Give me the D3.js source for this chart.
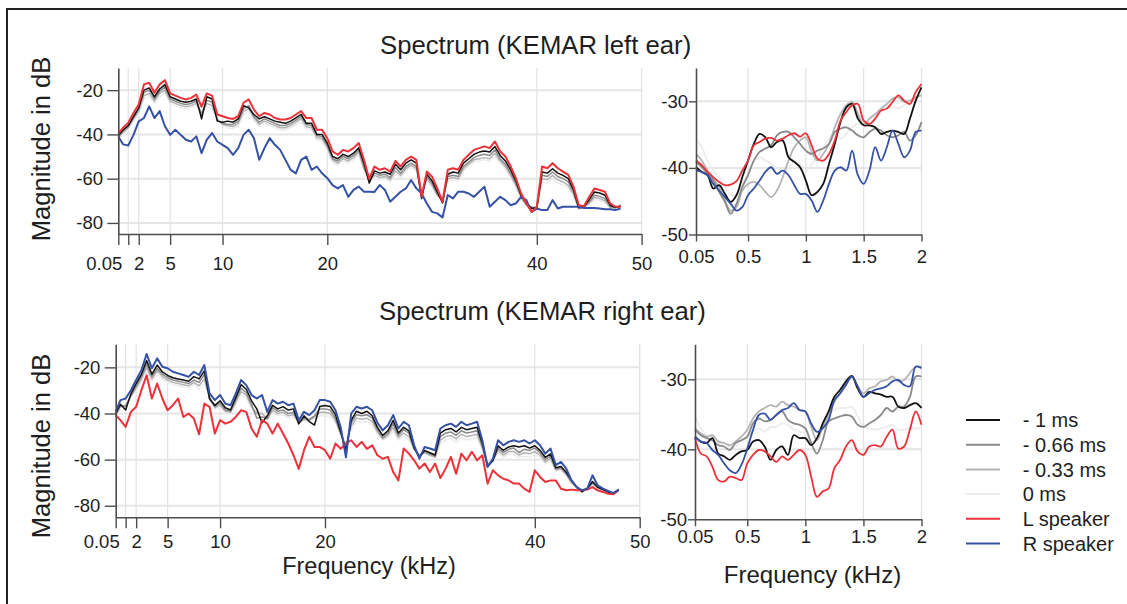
<!DOCTYPE html>
<html><head><meta charset="utf-8">
<script src="https://cdn.jsdelivr.net/npm/d3@7"></script>
<style>
html,body{margin:0;padding:0;background:#fff;}
svg{display:block;font-family:"Liberation Sans",Arial,Helvetica,sans-serif;}
</style></head><body>
<svg id="c" width="1127" height="604"></svg>
<script>
// ---------------- DATA ----------------
const freqL = [0.05,0.5,1,1.5,2,2.5,3,3.5,4,4.5,5,5.5,6,6.5,7,7.5,8,8.5,9,9.5,10,10.5,11,11.5,12,12.5,13,13.5,14,14.5,15,15.5,16,16.5,17,17.5,18,18.5,19,19.5,20,20.5,21,21.5,22,22.5,23,23.5,24,24.5,25,25.5,26,26.5,27,27.5,28,28.5,29,29.5,30,30.5,31,31.5,32,32.5,33,33.5,34,34.5,35,35.5,36,36.5,37,37.5,38,38.5,39,39.5,40,40.5,41,41.5,42,42.5,43,43.5,44,44.5,45,45.5,46,46.5,47,47.5,48];
const freqR = [0.05,0.1,0.15,0.2,0.25,0.3,0.35,0.4,0.45,0.5,0.55,0.6,0.65,0.7,0.75,0.8,0.85,0.9,0.95,1,1.05,1.1,1.15,1.2,1.25,1.3,1.35,1.4,1.45,1.5,1.55,1.6,1.65,1.7,1.75,1.8,1.85,1.9,1.95,2];
const seriesLabels = ["- 1 ms","- 0.66 ms","- 0.33 ms","0 ms","L speaker","R speaker"];
const xTicksWide = [0.05,1,2,5,10,20,40,50];
const xTicksNarrow = [0.05,0.5,1,1.5,2];
const yTicksWide = [-80,-60,-40,-20];
const yTicksNarrow = [-50,-40,-30];
const titles = ["Spectrum (KEMAR left ear)","Spectrum (KEMAR right ear)"];

// Left ear, wide range (kHz 0.05-48)
const leftWideL = [-39.7,-37,-34.8,-30.3,-26.5,-17.4,-16.7,-21.2,-17.4,-15.5,
 -21.5,-22.5,-23.5,-24.2,-23.5,-22,-27.5,-21.5,-22.5,-31,
 -31.8,-32.6,-33,-31.8,-25.7,-24.2,-28.8,-31.8,-30.3,-31,
 -32.6,-33.3,-33.3,-32.6,-31,-29.5,-32.6,-32.6,-37.9,-37.9,
 -41.7,-47.7,-49.2,-47,-47.7,-46.2,-43.9,-51.5,-60,-54.5,
 -56,-55.3,-56.8,-52,-54.5,-51.5,-50,-51.5,-68,-56.8,
 -59.1,-64.4,-70.5,-56,-55.3,-56,-51.5,-49.2,-47,-46.2,
 -45.4,-46.2,-43.2,-47.7,-50,-54.5,-59.8,-66.7,-71.2,-75,
 -72.7,-54.5,-55.3,-53,-55.3,-56.8,-58.3,-63.6,-72,-72.4,
 -68.2,-64.4,-65.1,-65.9,-71.2,-72.7,-72.7];
const leftWideR = [-40.9,-44.5,-45,-40.2,-34.1,-32.6,-27.3,-32.6,-29.5,-36.3,
 -40.2,-37.9,-40.2,-42.4,-43.2,-40.9,-48.5,-42.4,-39.4,-43.2,
 -44.7,-46.2,-49.2,-46.2,-40.2,-37.9,-41.7,-51.5,-46.2,-41.7,
 -44.7,-47,-51.5,-56,-57.6,-51.5,-50,-56,-54.5,-57.6,
 -59.8,-62.9,-64.4,-62.9,-68.2,-65.1,-63.6,-65.9,-65.9,-66,
 -62.9,-65.1,-70.4,-68.2,-65.9,-64.4,-60.6,-64.4,-66.7,-71.2,
 -75,-75.7,-77.5,-67.4,-68.9,-65.9,-65.9,-66.7,-68.2,-65.9,
 -63.6,-72.7,-70.4,-68.2,-69.7,-72,-71.2,-68.2,-69.7,-75,
 -73.5,-74.2,-74.2,-69.7,-73.5,-72.7,-72.7,-72.7,-72.7,-73.2,
 -73.2,-73.2,-73.5,-73.8,-73.8,-74.2,-73.5];
const leftWideM100 = [-40.5,-38,-36,-32,-28,-20,-19,-23,-19.5,-17.5,
 -23,-24,-25,-25.5,-25,-24,-33,-23,-24,-34,
 -34.5,-34,-34.5,-33,-27,-28,-31,-33,-32,-33,
 -34,-34.5,-35,-34,-32.5,-31,-35,-35,-40,-40,
 -44,-50,-51,-49,-50,-48.5,-46,-53,-62,-56.5,
 -57.5,-57,-58,-53.5,-56,-53,-51.5,-53,-69,-58,
 -61,-66,-71,-58,-57,-57.5,-53,-51,-49,-48,
 -47.5,-48,-45.5,-49.5,-52,-56,-61,-67.5,-71,-73.5,
 -73,-57,-57.5,-55.5,-57.5,-58.5,-60,-65,-73,-72.5,
 -69.5,-66,-66.5,-67.5,-72,-73,-72.5];
const leftWideM066 = [-41,-38.5,-36.5,-32.5,-28.5,-21,-20,-24,-20.5,-18.5,
 -24,-25,-26,-26.5,-26,-25,-31,-24.5,-25.5,-33.5,
 -35,-35.5,-35.5,-34,-28.5,-27,-32,-34.5,-33,-34,
 -35,-36,-36,-35,-33.5,-32,-35.5,-36,-40.5,-41,
 -45,-51,-52,-50,-51,-49.5,-47,-54.5,-61,-57.5,
 -58.5,-58,-59.5,-55,-57.5,-54.5,-53,-54.5,-68,-59,
 -62,-67,-70,-59,-58.5,-59,-54.5,-52.5,-50.5,-49.5,
 -49,-49.5,-47,-51,-53.5,-57.5,-62,-68,-71.5,-73,
 -73,-58.5,-59,-57,-59,-60,-61.5,-66,-73.5,-73,
 -70.5,-67.5,-68,-69,-72.5,-73,-72];
const leftWideM033 = [-41.5,-39,-37,-33,-29.5,-22.5,-21.5,-25,-21.5,-20,
 -25,-26,-27,-27.5,-27,-26,-30.5,-26,-27,-33,
 -35.5,-36,-36.5,-35,-29.5,-28.5,-32.5,-35.5,-34,-35,
 -36,-37,-37,-36,-34.5,-33,-36.5,-37,-41.5,-42,
 -46,-51.5,-53,-51,-52,-50.5,-48,-55.5,-60.5,-58.5,
 -59.5,-59,-60.5,-56.5,-58.5,-55.5,-54,-55.5,-67,-60,
 -63,-67.5,-69.5,-60,-59.5,-60,-55.5,-53.5,-51.5,-51,
 -50.5,-51,-48.5,-52,-54.5,-58.5,-63,-68.5,-72,-73,
 -73,-60,-60.5,-58.5,-60.5,-61.5,-63,-67,-73.5,-73,
 -71,-68.5,-69,-70,-73,-73,-72.5];
const leftWideM000 = [-42,-39.5,-37.5,-34,-30.5,-24,-23,-26,-23,-21.5,
 -26,-27,-28,-28.5,-28,-27,-30,-27.5,-28.5,-32.5,
 -36,-37,-37.5,-36,-31,-30,-33.5,-36.5,-35,-36,
 -37,-38,-38,-37,-35.5,-34.5,-37.5,-38,-42.5,-43,
 -47,-52.5,-54,-52,-53,-51.5,-49,-56.5,-60,-59.5,
 -60.5,-60,-61.5,-58,-59.5,-56.5,-55,-56.5,-66,-61,
 -64,-68,-69,-61,-60.5,-61,-56.5,-54.5,-52.5,-52,
 -51.5,-52,-50,-53,-55.5,-59.5,-64,-69,-72,-73,
 -73,-61.5,-62,-60,-62,-63,-64,-68,-73.5,-73,
 -71.5,-69.5,-70,-71,-73,-73,-72.5];

// Right ear, wide range
const rightWideR = [-39.3,-34.2,-33.5,-29.9,-25.5,-21.2,-14.2,-20.4,-16.1,-19.7,
 -20.4,-21.9,-22.6,-23.3,-24.1,-21.9,-23.3,-19,-31.3,-34.2,
 -32,-35.7,-36.4,-31.3,-25.5,-27.7,-32,-33.5,-32,-39.3,
 -34.2,-35.7,-34.9,-36.4,-35.7,-42.9,-39.3,-40.7,-38.6,-34.2,
 -34.2,-34.9,-38.6,-46,-59,-40,-37.1,-37.8,-37.1,-38.6,
 -44,-47.3,-45.1,-40.7,-46.5,-43.6,-45.1,-53.8,-59.6,-54.5,
 -55.2,-55.9,-46.5,-45.1,-44.4,-45.8,-43.6,-45.1,-44.4,-43.6,
 -51.6,-63.2,-59.6,-51.6,-53.8,-52.3,-51.6,-52.3,-51.6,-53,
 -51.6,-53.8,-57.4,-55.2,-62.4,-61,-63.9,-69,-71.9,-73.3,
 -72.6,-66.8,-71.2,-72.6,-73.6,-74.5,-73];
const rightWideL = [-40.7,-42.9,-45.8,-39.3,-37.1,-29.9,-23.4,-33.5,-27,-33.5,
 -38.6,-36.4,-33.5,-41.5,-40,-42.2,-49,-35.7,-37.1,-48.7,
 -42.9,-44.4,-43.6,-41.5,-38.6,-39.3,-46.5,-50.1,-42.9,-44.4,
 -48.7,-44.4,-48.7,-53,-58.1,-64,-55.9,-50.1,-54.5,-54.5,
 -55.9,-59.6,-53,-55.3,-53,-51.6,-54.5,-52.3,-55.3,-53.8,
 -58.1,-59.6,-58.8,-65.4,-69,-55.2,-57.4,-60.3,-63.9,-61.7,
 -65.4,-61.7,-68,-63.9,-58.8,-66.1,-57.4,-60.3,-56.6,-60.3,
 -58.1,-70.4,-64.6,-66.8,-68.3,-69,-70.4,-70.4,-72.6,-74,
 -64.6,-67.5,-69.7,-69,-69,-72.6,-73.3,-73,-73.3,-73.3,
 -73,-71.9,-73.3,-74,-74.8,-75,-73.3];
const rightWideM100 = [-40,-36,-38.5,-31.5,-27,-23,-17,-23,-19,-22,
 -23.5,-24.5,-25,-25.5,-26,-24,-25,-21.5,-33.5,-36.5,
 -34.5,-37.5,-38.5,-33,-27.5,-29.5,-34.5,-38,-44,-41,
 -36.5,-38,-37,-38.5,-38,-44.5,-41,-43.5,-45,-37,
 -36.5,-37,-40.5,-48,-56,-43,-39,-40,-39,-41,
 -46,-49.5,-47.5,-43,-48.5,-46,-47.5,-55,-59,-56,
 -57,-58,-48.5,-47,-46.5,-48,-46,-47,-46.5,-46,
 -53,-63,-60.5,-54,-56,-54.5,-54,-54.5,-54,-55,
 -54,-56,-59,-57.5,-63.5,-63,-65.5,-69,-72,-74,
 -72.5,-69.5,-72,-73,-74,-74.5,-73];
const rightWideM066 = [-40.5,-36.5,-37,-32,-28,-24,-18.5,-24,-20.5,-23,
 -24.5,-25.5,-26,-26.5,-27,-25.5,-26.5,-23,-34,-37,
 -35.5,-38.5,-39,-34,-29,-31,-36,-42,-41.5,-42,
 -37.5,-39,-38.5,-40,-39.5,-44,-42,-42.5,-41,-38,
 -38,-38.5,-42,-48.5,-55,-44,-40.5,-41,-40.5,-42,
 -47,-50.5,-48.5,-44.5,-49.5,-47,-48.5,-55,-58.5,-56.5,
 -57.5,-58.5,-50,-48.5,-48,-49.5,-47.5,-48.5,-48,-47.5,
 -54,-62.5,-60.5,-55,-57,-55.5,-55,-57,-55.5,-56,
 -55,-57,-60,-58.5,-64,-63.5,-66,-69.5,-72,-73.5,
 -72.5,-70,-72,-73,-74,-74.5,-73];
const rightWideM033 = [-41,-37,-36.5,-32.5,-29,-25,-20,-25,-21.5,-24,
 -25.5,-26.5,-27,-27.5,-28,-26.5,-28,-25,-33,-37.5,
 -36.5,-39,-39.5,-35,-30.5,-32,-37,-40,-40,-42.5,
 -38.5,-40,-39.5,-41,-40.5,-44,-42.5,-43,-41.5,-39.5,
 -39.5,-40,-43,-49,-54,-45.5,-42,-42.5,-42,-43.5,
 -48,-51,-49.5,-46,-50.5,-48.5,-50,-55.5,-58,-57,
 -58,-59,-51.5,-50,-49.5,-51,-49,-50,-49.5,-49,
 -55,-62,-60.5,-56,-58,-56.5,-56.5,-58,-57,-57.5,
 -56.5,-58,-61,-59.5,-64.5,-64,-66.5,-70,-72,-73.5,
 -72.5,-70.5,-72,-73,-74,-74.5,-73];
const rightWideM000 = [-41.5,-37.5,-36,-33,-30,-26,-21.5,-26,-23,-25,
 -26.5,-27.5,-28,-28.5,-29,-27.5,-29.5,-26.5,-32.5,-38,
 -37.5,-39.5,-40,-36,-32,-33,-38,-39.5,-39,-43,
 -39.5,-41,-40.5,-42,-41.5,-44,-43,-43.5,-42,-41,
 -41,-41.5,-44,-49.5,-53,-47,-43.5,-44,-43.5,-45,
 -49,-51.5,-50.5,-47.5,-51.5,-50,-51.5,-56,-57.5,-57.5,
 -58.5,-59.5,-53,-51.5,-51,-52.5,-50.5,-51.5,-51,-50.5,
 -56,-61.5,-60.5,-57,-59,-57.5,-58,-59,-58.5,-59,
 -58,-59,-62,-60.5,-65,-64.5,-67,-70.5,-72,-73.5,
 -72.5,-71,-72,-73,-74,-74.5,-73];

// Left ear, low range (kHz 0.05-2)
const leftLowL = [-38.9,-39.6,-40.6,-41.4,-42.1,-42.6,-42.5,-42,-40.4,-38.9,-36.6,-36.1,-35.6,-35.5,-35.9,-35.6,-35.1,-34.8,-35.3,-34.8,-36.6,-38.6,-38.9,-37.9,-35.9,-32.9,-31.6,-30.6,-30.4,-32.9,-33.4,-32.6,-31.4,-31.1,-30.1,-29.1,-29.9,-30.4,-28.6,-27.4];
const leftLowR = [-40.4,-40.6,-41.1,-42.4,-43.4,-44.4,-45.4,-46.4,-45.9,-44.1,-43.1,-41.9,-40.6,-39.9,-40.9,-40.4,-41.1,-42.6,-43.9,-43.9,-44.9,-46.6,-44.9,-42.4,-40.4,-39.9,-40.4,-37.4,-41.1,-42.4,-40.4,-36.9,-38.9,-36.9,-34.4,-36.4,-38.4,-37.4,-34.6,-34.4];
const leftLowM100 = [-39.9,-40.6,-41.1,-43.1,-42.6,-43.9,-45.1,-44.1,-41.4,-38.9,-36.4,-34.9,-35.4,-36.9,-36.1,-35.9,-38.4,-39.1,-39.9,-41.9,-44.1,-43.6,-42.4,-39.4,-36.4,-33.1,-30.9,-30.4,-32.6,-33.6,-33.6,-33.9,-34.9,-34.6,-34.4,-34.6,-34.9,-32.6,-29.9,-27.9];
const leftLowM066 = [-39.1,-39.9,-40.9,-41.9,-43.6,-45.1,-46.9,-45.4,-42.9,-41.1,-38.9,-37.6,-37.1,-36.6,-35.1,-34.6,-34.6,-35.4,-36.4,-37.4,-37.9,-37.4,-37.1,-36.4,-34.6,-34.1,-33.9,-34.4,-35.1,-35.4,-34.6,-34.1,-34.4,-35.1,-35.4,-35.1,-34.6,-35.9,-35.1,-33.1];
const leftLowM033 = [-37.9,-38.9,-40.4,-41.6,-42.9,-44.9,-46.4,-45.9,-43.4,-42.4,-42.1,-42.6,-43.6,-44.4,-43.4,-41.4,-38.9,-36.9,-35.9,-35.4,-37.6,-38.9,-37.9,-36.4,-33.9,-31.9,-30.6,-30.1,-31.9,-33.4,-32.6,-31.9,-31.1,-30.4,-29.6,-29.4,-30.1,-29.9,-29.4,-29.1];
const leftLowM000 = [-35.6,-36.9,-38.9,-40.4,-41.4,-42.9,-44.1,-43.9,-42.4,-40.9,-38.9,-38.4,-38.9,-39.4,-40.1,-40.4,-39.9,-39.1,-39.4,-40.4,-39.4,-38.4,-36.9,-35.6,-35.1,-35.6,-34.9,-33.9,-33.4,-33.6,-32.9,-32.1,-31.4,-30.9,-30.9,-31.1,-30.6,-30.1,-29.6,-28.9];

// Right ear, low range
const rightLowL = [-38.4,-40.6,-41,-42.5,-44.4,-44.6,-43.9,-44.1,-44.4,-42,-40.8,-40.1,-40.3,-41,-41.8,-41,-41.5,-40.8,-40.1,-40.8,-43.9,-46.8,-46,-45.6,-42.7,-41.5,-39.6,-38.7,-40.3,-40.8,-39.6,-39.4,-39.6,-38.2,-37.2,-39.9,-39.6,-37.2,-34.6,-36.5];
const rightLowR = [-38.2,-38.9,-39.1,-40.1,-40.8,-42,-43,-43.4,-42.2,-39.9,-37.2,-35.1,-34.9,-35.8,-35.1,-34.4,-34.1,-33.4,-34.4,-34.6,-36.3,-37.5,-37,-35.8,-33,-32,-30.8,-29.6,-31,-32.5,-32,-31.5,-31.3,-31,-30.3,-30.1,-30.8,-31,-28.2,-28.4];
const rightLowM100 = [-38.2,-38.9,-39.1,-38.4,-40.6,-41,-41.5,-40.8,-40.3,-40.1,-38.9,-38.7,-39.6,-41.5,-40.1,-39.6,-40.8,-38,-38.4,-38.4,-39.4,-38.4,-36.3,-34.6,-32.5,-31.5,-30.3,-29.5,-31.3,-32.5,-31.8,-32,-32.2,-32.5,-32.5,-33.9,-34.1,-33.7,-33.4,-34.1];
const rightLowM066 = [-37.2,-38,-38.4,-38.7,-39.4,-39.6,-40.1,-39.1,-38.7,-38.2,-36.3,-35.6,-36,-35.8,-35.1,-34.6,-35.8,-36.3,-36.5,-37,-39.1,-40.6,-38.7,-36,-35.6,-35.3,-35.1,-35.3,-36.5,-36.8,-36.3,-35.8,-35.1,-34.1,-34.6,-33.9,-33.9,-32.5,-29.6,-29.6];
const rightLowM033 = [-37,-37.7,-38.2,-38,-38.9,-39.1,-39.4,-38.9,-38.2,-37.2,-35.6,-34.6,-34.1,-33.7,-33.9,-33.2,-33.7,-33.9,-34.4,-34.6,-36.8,-38.7,-36.8,-35.1,-33.2,-32,-30.6,-29.6,-31,-32,-31.3,-31,-30.3,-30.1,-29.6,-30.3,-30.1,-29.1,-28.2,-28.2];
const rightLowM000 = [-35.3,-37,-38,-38.2,-38.7,-39.1,-39.6,-39.6,-38.7,-38.2,-37.5,-37,-37.5,-36.8,-36.8,-36.3,-36.5,-37.2,-37.5,-37.7,-38.9,-38.7,-36.8,-34.9,-34.4,-34.1,-34.1,-33.9,-35.3,-36.8,-37,-37.2,-37,-36.8,-36.5,-37.2,-37.2,-37,-37,-37];

// ---------------- STYLE ----------------
const colorOf = {"- 1 ms":"#111111","- 0.66 ms":"#8a8a8a","- 0.33 ms":"#b4b4b4","0 ms":"#ececec","L speaker":"#ec3139","R speaker":"#3451a5"};
const FONT = '"Liberation Sans",Arial,Helvetica,sans-serif';
const TXT = "#1e1e1e";
const AX = "#4d4d4d";

const svg = d3.select("#c");

// frame
svg.append("line").attr("x1",7).attr("x2",7).attr("y1",8).attr("y2",604).attr("stroke","#222").attr("stroke-width",2);
svg.append("line").attr("x1",6).attr("x2",1127).attr("y1",9).attr("y2",9).attr("stroke","#222").attr("stroke-width",2);

function drawPanel(cfg){
  const x = d3.scaleLinear().domain(cfg.xd).range(cfg.xr);
  const y = d3.scaleLinear().domain(cfg.yd).range(cfg.yr);
  const g = svg.append("g");
  // grid
  g.selectAll("line.hg").data(cfg.yGrid).join("line")
    .attr("x1",cfg.xr[0]).attr("x2",cfg.xr[1]).attr("y1",d=>y(d)).attr("y2",d=>y(d))
    .attr("stroke","#e6e6e6").attr("stroke-width",2);
  g.selectAll("line.vg").data(cfg.xGrid).join("line")
    .attr("x1",d=>x(d)).attr("x2",d=>x(d)).attr("y1",cfg.yr[1]).attr("y2",cfg.yr[0])
    .attr("stroke","#e2e2e2").attr("stroke-width",1.2);
  // curves
  const line = d3.line().x((d,i)=>x(cfg.freq[i])).y(d=>y(d)).curve(cfg.curve);
  cfg.order.forEach(name=>{
    g.append("path").datum(cfg.series[name]).attr("d",line)
      .attr("fill","none").attr("stroke",colorOf[name])
      .attr("stroke-width",(name==="L speaker"||name==="R speaker")?cfg.lwMain:cfg.lwGray)
      .attr("stroke-linejoin","round");
  });
  // axes
  const xa = g.append("g").attr("transform",`translate(0,${cfg.yr[0]})`)
    .call(d3.axisBottom(x).tickValues(cfg.xTicks).tickSize(cfg.tick).tickSizeOuter(0)
      .tickPadding(cfg.xPad).tickFormat(d=> d===1 && cfg.hideOne ? "" : String(d)));
  const ya = g.append("g").attr("transform",`translate(${cfg.xr[0]},0)`)
    .call(d3.axisLeft(y).tickValues(cfg.yTicks).tickSize(cfg.tick).tickSizeOuter(0)
      .tickPadding(cfg.yPad).tickFormat(d=>String(d)));
  [xa,ya].forEach(a=>{
    a.attr("font-family",FONT).attr("font-size",18.5);
    a.select(".domain").attr("stroke",AX).attr("stroke-width",1.6);
    a.selectAll(".tick line").attr("stroke",AX).attr("stroke-width",1.4);
    a.selectAll(".tick text").attr("fill",TXT);
  });
  if(cfg.hideOne){
    xa.selectAll(".tick text").filter(d=>d===0.05).attr("text-anchor","end").attr("dx",3.5);
  }
  return {x,y};
}

function panelSeries(m100,m066,m033,m000,L,R){
  return {"- 1 ms":m100,"- 0.66 ms":m066,"- 0.33 ms":m033,"0 ms":m000,"L speaker":L,"R speaker":R};
}
const orderTop = ["0 ms","- 0.33 ms","- 0.66 ms","- 1 ms","R speaker","L speaker"];
const orderBot = ["0 ms","- 0.33 ms","- 0.66 ms","- 1 ms","L speaker","R speaker"];

// Top-left
drawPanel({xd:[0.05,50],xr:[118.3,641.6],yd:[-85,-10],yr:[234,68],freq:freqL,
  series:panelSeries(leftWideM100,leftWideM066,leftWideM033,leftWideM000,leftWideL,leftWideR),
  order:orderTop,curve:d3.curveLinear,lwMain:2,lwGray:1.5,
  xTicks:xTicksWide,yTicks:yTicksWide,xGrid:xTicksWide.slice(1),yGrid:yTicksWide,
  tick:11,xPad:11.5,yPad:4.3,hideOne:true});
// Bottom-left
drawPanel({xd:[0.05,50],xr:[115.7,639.7],yd:[-85,-10],yr:[517.3,344.3],freq:freqL,
  series:panelSeries(rightWideM100,rightWideM066,rightWideM033,rightWideM000,rightWideL,rightWideR),
  order:orderBot,curve:d3.curveLinear,lwMain:2,lwGray:1.5,
  xTicks:xTicksWide,yTicks:yTicksWide,xGrid:xTicksWide.slice(1),yGrid:yTicksWide,
  tick:11,xPad:6.5,yPad:4.3,hideOne:true});
// Top-right
drawPanel({xd:[0.05,2],xr:[696,921.5],yd:[-50,-25],yr:[234.5,68],freq:freqR,
  series:panelSeries(leftLowM100,leftLowM066,leftLowM033,leftLowM000,leftLowL,leftLowR),
  order:orderTop,curve:d3.curveCatmullRom,lwMain:1.8,lwGray:1.8,
  xTicks:xTicksNarrow,yTicks:yTicksNarrow,xGrid:xTicksNarrow.slice(1),yGrid:[-40,-30],
  tick:7,xPad:8.5,yPad:1,hideOne:false});
// Bottom-right
drawPanel({xd:[0.05,2],xr:[695,921.5],yd:[-50,-25],yr:[519.3,344.3],freq:freqR,
  series:panelSeries(rightLowM100,rightLowM066,rightLowM033,rightLowM000,rightLowL,rightLowR),
  order:orderBot,curve:d3.curveCatmullRom,lwMain:1.8,lwGray:1.8,
  xTicks:xTicksNarrow,yTicks:yTicksNarrow,xGrid:xTicksNarrow.slice(1),yGrid:[-40,-30],
  tick:7,xPad:3.5,yPad:1,hideOne:false});

// titles
const T = svg.append("g").attr("font-family",FONT).attr("fill",TXT);
T.append("text").attr("x",380).attr("y",54).attr("font-size",25.7).text(titles[0]);
T.append("text").attr("x",379).attr("y",320).attr("font-size",25.7).text(titles[1]);
T.append("text").attr("transform","translate(50,149) rotate(-90)").attr("text-anchor","middle").attr("font-size",25.5).text("Magnitude in dB");
T.append("text").attr("transform","translate(50,446) rotate(-90)").attr("text-anchor","middle").attr("font-size",25.5).text("Magnitude in dB");
T.append("text").attr("x",369).attr("y",574).attr("text-anchor","middle").attr("font-size",23.5).text("Frequency (kHz)");
T.append("text").attr("x",812.5).attr("y",583).attr("text-anchor","middle").attr("font-size",24).text("Frequency (kHz)");

// legend
const legY = d3.scalePoint().domain(seriesLabels).range([420,543.5]);
const lg = svg.append("g").attr("font-family",FONT);
lg.selectAll("line").data(seriesLabels).join("line")
  .attr("x1",966).attr("x2",1000).attr("y1",d=>legY(d)).attr("y2",d=>legY(d))
  .attr("stroke",d=>colorOf[d]).attr("stroke-width",2);
lg.selectAll("text").data(seriesLabels).join("text")
  .attr("x",1022.7).attr("y",d=>legY(d)).attr("dy","0.36em").attr("font-size",20).attr("fill",TXT).text(d=>d);
</script></body></html>
